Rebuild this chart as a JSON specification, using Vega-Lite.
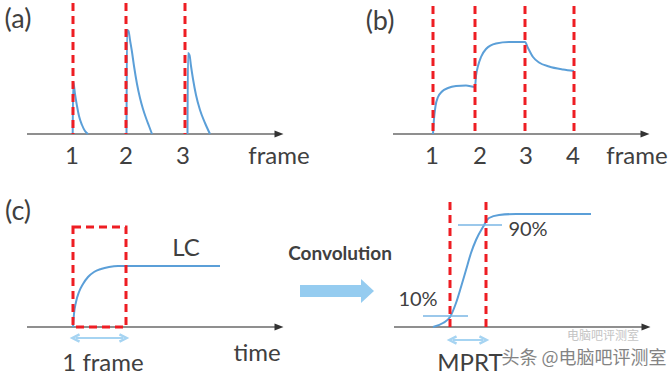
{
  "$schema": "https://vega.github.io/schema/vega-lite/v6.json",
  "width": 672,
  "height": 378,
  "autosize": {"type": "fit", "contains": "padding"},
  "padding": 0,
  "background": "white",
  "config": {"view": {"stroke": null}, "font": "Lato"},
  "datasets": {
    "axes": [
      {"x": 27, "x2": 278, "y": 134},
      {"x": 393, "x2": 644, "y": 134},
      {"x": 27, "x2": 278, "y": 327},
      {"x": 394, "x2": 645, "y": 327}
    ],
    "axisHeads": [
      {"x": 279, "y": 134},
      {"x": 645, "y": 134},
      {"x": 279, "y": 327},
      {"x": 646, "y": 327}
    ],
    "curves": [
      {"s": "a1", "x": 72.7, "y": 134}, {"s": "a1", "x": 73.2, "y": 82}, {"s": "a1", "x": 74, "y": 86}, {"s": "a1", "x": 75, "y": 94}, {"s": "a1", "x": 77, "y": 106}, {"s": "a1", "x": 79, "y": 116}, {"s": "a1", "x": 82, "y": 125}, {"s": "a1", "x": 85, "y": 131}, {"s": "a1", "x": 88, "y": 134},
      {"s": "a2", "x": 126.5, "y": 134}, {"s": "a2", "x": 127, "y": 30}, {"s": "a2", "x": 128.5, "y": 31}, {"s": "a2", "x": 130, "y": 40}, {"s": "a2", "x": 132, "y": 52}, {"s": "a2", "x": 134, "y": 66}, {"s": "a2", "x": 137, "y": 84}, {"s": "a2", "x": 140, "y": 98}, {"s": "a2", "x": 143, "y": 109}, {"s": "a2", "x": 146, "y": 118}, {"s": "a2", "x": 149, "y": 126}, {"s": "a2", "x": 152, "y": 134},
      {"s": "a3", "x": 187.5, "y": 134}, {"s": "a3", "x": 188, "y": 53}, {"s": "a3", "x": 189.5, "y": 55}, {"s": "a3", "x": 191, "y": 66}, {"s": "a3", "x": 193, "y": 79}, {"s": "a3", "x": 196, "y": 95}, {"s": "a3", "x": 200, "y": 110}, {"s": "a3", "x": 205, "y": 123}, {"s": "a3", "x": 210, "y": 134},
      {"s": "b", "x": 433, "y": 134}, {"s": "b", "x": 434, "y": 119}, {"s": "b", "x": 435.5, "y": 106}, {"s": "b", "x": 438, "y": 97}, {"s": "b", "x": 442, "y": 91.5}, {"s": "b", "x": 448, "y": 88}, {"s": "b", "x": 456, "y": 86}, {"s": "b", "x": 466, "y": 85.5}, {"s": "b", "x": 475, "y": 87}, {"s": "b", "x": 476, "y": 76}, {"s": "b", "x": 478, "y": 66}, {"s": "b", "x": 481, "y": 57}, {"s": "b", "x": 486, "y": 49}, {"s": "b", "x": 496, "y": 43.5}, {"s": "b", "x": 509, "y": 42}, {"s": "b", "x": 525, "y": 42}, {"s": "b", "x": 528, "y": 48}, {"s": "b", "x": 533, "y": 57}, {"s": "b", "x": 539, "y": 62.5}, {"s": "b", "x": 549, "y": 66.5}, {"s": "b", "x": 563, "y": 69.5}, {"s": "b", "x": 574, "y": 71},
      {"s": "lc", "x": 73, "y": 327}, {"s": "lc", "x": 74, "y": 314}, {"s": "lc", "x": 76, "y": 302}, {"s": "lc", "x": 79, "y": 292}, {"s": "lc", "x": 83, "y": 284}, {"s": "lc", "x": 88, "y": 277}, {"s": "lc", "x": 94, "y": 272}, {"s": "lc", "x": 101, "y": 269}, {"s": "lc", "x": 109, "y": 267}, {"s": "lc", "x": 118, "y": 266}, {"s": "lc", "x": 126, "y": 266}, {"s": "lc", "x": 220, "y": 266},
      {"s": "mprt", "x": 433, "y": 327}, {"s": "mprt", "x": 443, "y": 323}, {"s": "mprt", "x": 450, "y": 317}, {"s": "mprt", "x": 456, "y": 303}, {"s": "mprt", "x": 461, "y": 287}, {"s": "mprt", "x": 466, "y": 270}, {"s": "mprt", "x": 471, "y": 253}, {"s": "mprt", "x": 476, "y": 240}, {"s": "mprt", "x": 483, "y": 227}, {"s": "mprt", "x": 489, "y": 218}, {"s": "mprt", "x": 499, "y": 215}, {"s": "mprt", "x": 516, "y": 214}, {"s": "mprt", "x": 591, "y": 214}
    ],
    "levels": [
      {"x": 423, "x2": 468, "y": 316},
      {"x": 458, "x2": 502, "y": 225}
    ],
    "redLines": [
      {"x": 73, "y": 3, "y2": 134},
      {"x": 126, "y": 3, "y2": 134},
      {"x": 185, "y": 3, "y2": 134},
      {"x": 433, "y": 6, "y2": 134},
      {"x": 475, "y": 6, "y2": 134},
      {"x": 525, "y": 6, "y2": 134},
      {"x": 574, "y": 6, "y2": 134},
      {"x": 450, "y": 202, "y2": 327},
      {"x": 486, "y": 202, "y2": 327}
    ],
    "redBox": [
      {"x": 73, "x2": 126, "y": 227, "y2": 327}
    ],
    "spans": [
      {"x": 76, "x2": 123, "y": 338},
      {"x": 453, "x2": 483, "y": 340}
    ],
    "spanHeadsL": [
      {"x": 76, "y": 338},
      {"x": 453, "y": 340}
    ],
    "spanHeadsR": [
      {"x": 123, "y": 338},
      {"x": 483, "y": 340}
    ],
    "convBody": [
      {"x": 300, "x2": 362, "y": 285, "y2": 297}
    ],
    "convHead": [
      {"x": 367.5, "y": 291}
    ],
    "panelLabels": [
      {"t": "(a)", "x": 18, "y": 20},
      {"t": "(b)", "x": 380, "y": 22},
      {"t": "(c)", "x": 18, "y": 212}
    ],
    "labels": [
      {"t": "1", "x": 72, "y": 157},
      {"t": "2", "x": 126, "y": 157},
      {"t": "3", "x": 183, "y": 157},
      {"t": "frame", "x": 279, "y": 157},
      {"t": "1", "x": 432, "y": 157},
      {"t": "2", "x": 480, "y": 157},
      {"t": "3", "x": 526, "y": 157},
      {"t": "4", "x": 573, "y": 157},
      {"t": "frame", "x": 637, "y": 157},
      {"t": "LC", "x": 186, "y": 249},
      {"t": "1 frame", "x": 103, "y": 364},
      {"t": "time", "x": 257, "y": 354},
      {"t": "MPRT", "x": 470, "y": 364}
    ],
    "pctLabels": [
      {"t": "90%", "x": 528, "y": 230},
      {"t": "10%", "x": 418, "y": 300}
    ],
    "convLabel": [
      {"t": "Convolution", "x": 340, "y": 254}
    ],
    "mark1": [
      {"t": "头条 @电脑吧评测室", "x": 584, "y": 359}
    ],
    "mark2": [
      {"t": "电脑吧评测室", "x": 603, "y": 336}
    ]
  },
  "layer": [
    {
      "data": {"name": "axes"},
      "mark": {"type": "rule", "color": "#6a6a6a", "strokeWidth": 1.5},
      "encoding": {
        "x": {"field": "x", "type": "quantitative", "scale": {"domain": [0, 672], "nice": false, "zero": false}, "axis": null},
        "x2": {"field": "x2"},
        "y": {"field": "y", "type": "quantitative", "scale": {"domain": [0, 378], "reverse": true, "nice": false, "zero": false}, "axis": null}
      }
    },
    {
      "data": {"name": "axisHeads"},
      "mark": {"type": "point", "shape": "M-1,-0.8L1,0L-1,0.8Z", "filled": true, "color": "#333333", "opacity": 1, "size": 80},
      "encoding": {
        "x": {"field": "x", "type": "quantitative"},
        "y": {"field": "y", "type": "quantitative"}
      }
    },
    {
      "data": {"name": "curves"},
      "mark": {"type": "line", "color": "#5b9fd8", "strokeWidth": 2, "interpolate": "monotone"},
      "encoding": {
        "x": {"field": "x", "type": "quantitative"},
        "y": {"field": "y", "type": "quantitative"},
        "detail": {"field": "s", "type": "nominal"}
      }
    },
    {
      "data": {"name": "levels"},
      "mark": {"type": "rule", "color": "#7ab6e4", "strokeWidth": 1.5},
      "encoding": {
        "x": {"field": "x", "type": "quantitative"},
        "x2": {"field": "x2"},
        "y": {"field": "y", "type": "quantitative"}
      }
    },
    {
      "data": {"name": "redLines"},
      "mark": {"type": "rule", "color": "#ee1d23", "strokeWidth": 3, "strokeDash": [8, 5]},
      "encoding": {
        "x": {"field": "x", "type": "quantitative"},
        "y": {"field": "y", "type": "quantitative"},
        "y2": {"field": "y2"}
      }
    },
    {
      "data": {"name": "redBox"},
      "mark": {"type": "rect", "filled": false, "stroke": "#ee1d23", "strokeWidth": 3, "strokeDash": [8, 5]},
      "encoding": {
        "x": {"field": "x", "type": "quantitative"},
        "x2": {"field": "x2"},
        "y": {"field": "y", "type": "quantitative"},
        "y2": {"field": "y2"}
      }
    },
    {
      "data": {"name": "spans"},
      "mark": {"type": "rule", "color": "#a6d4f2", "strokeWidth": 2},
      "encoding": {
        "x": {"field": "x", "type": "quantitative"},
        "x2": {"field": "x2"},
        "y": {"field": "y", "type": "quantitative"}
      }
    },
    {
      "data": {"name": "spanHeadsL"},
      "mark": {"type": "point", "shape": "M1,-1L-1,0L1,1", "filled": false, "color": "#a6d4f2", "strokeWidth": 2.5, "opacity": 1, "size": 50},
      "encoding": {
        "x": {"field": "x", "type": "quantitative"},
        "y": {"field": "y", "type": "quantitative"}
      }
    },
    {
      "data": {"name": "spanHeadsR"},
      "mark": {"type": "point", "shape": "M-1,-1L1,0L-1,1", "filled": false, "color": "#a6d4f2", "strokeWidth": 2.5, "opacity": 1, "size": 50},
      "encoding": {
        "x": {"field": "x", "type": "quantitative"},
        "y": {"field": "y", "type": "quantitative"}
      }
    },
    {
      "data": {"name": "convBody"},
      "mark": {"type": "rect", "color": "#95ccf0"},
      "encoding": {
        "x": {"field": "x", "type": "quantitative"},
        "x2": {"field": "x2"},
        "y": {"field": "y", "type": "quantitative"},
        "y2": {"field": "y2"}
      }
    },
    {
      "data": {"name": "convHead"},
      "mark": {"type": "point", "shape": "M-0.54,-1L0.54,0L-0.54,1Z", "filled": true, "color": "#95ccf0", "opacity": 1, "size": 576},
      "encoding": {
        "x": {"field": "x", "type": "quantitative"},
        "y": {"field": "y", "type": "quantitative"}
      }
    },
    {
      "data": {"name": "panelLabels"},
      "mark": {"type": "text", "font": "Lato", "fontSize": 27, "color": "#404040", "align": "center", "baseline": "middle"},
      "encoding": {
        "x": {"field": "x", "type": "quantitative"},
        "y": {"field": "y", "type": "quantitative"},
        "text": {"field": "t"}
      }
    },
    {
      "data": {"name": "labels"},
      "mark": {"type": "text", "font": "Lato", "fontSize": 24, "color": "#404040", "align": "center", "baseline": "middle"},
      "encoding": {
        "x": {"field": "x", "type": "quantitative"},
        "y": {"field": "y", "type": "quantitative"},
        "text": {"field": "t"}
      }
    },
    {
      "data": {"name": "pctLabels"},
      "mark": {"type": "text", "font": "Lato", "fontSize": 20, "color": "#404040", "align": "center", "baseline": "middle"},
      "encoding": {
        "x": {"field": "x", "type": "quantitative"},
        "y": {"field": "y", "type": "quantitative"},
        "text": {"field": "t"}
      }
    },
    {
      "data": {"name": "convLabel"},
      "mark": {"type": "text", "font": "Lato", "fontSize": 19, "fontWeight": "bold", "color": "#404040", "align": "center", "baseline": "middle"},
      "encoding": {
        "x": {"field": "x", "type": "quantitative"},
        "y": {"field": "y", "type": "quantitative"},
        "text": {"field": "t"}
      }
    },
    {
      "data": {"name": "mark2"},
      "mark": {"type": "text", "font": "Noto Sans CJK SC", "fontSize": 12, "color": "#c4c4c4", "align": "center", "baseline": "middle"},
      "encoding": {
        "x": {"field": "x", "type": "quantitative"},
        "y": {"field": "y", "type": "quantitative"},
        "text": {"field": "t"}
      }
    },
    {
      "data": {"name": "mark1"},
      "mark": {"type": "text", "font": "Noto Sans CJK SC", "fontSize": 18, "color": "#6e6e6e", "opacity": 0.85, "align": "center", "baseline": "middle"},
      "encoding": {
        "x": {"field": "x", "type": "quantitative"},
        "y": {"field": "y", "type": "quantitative"},
        "text": {"field": "t"}
      }
    }
  ]
}
